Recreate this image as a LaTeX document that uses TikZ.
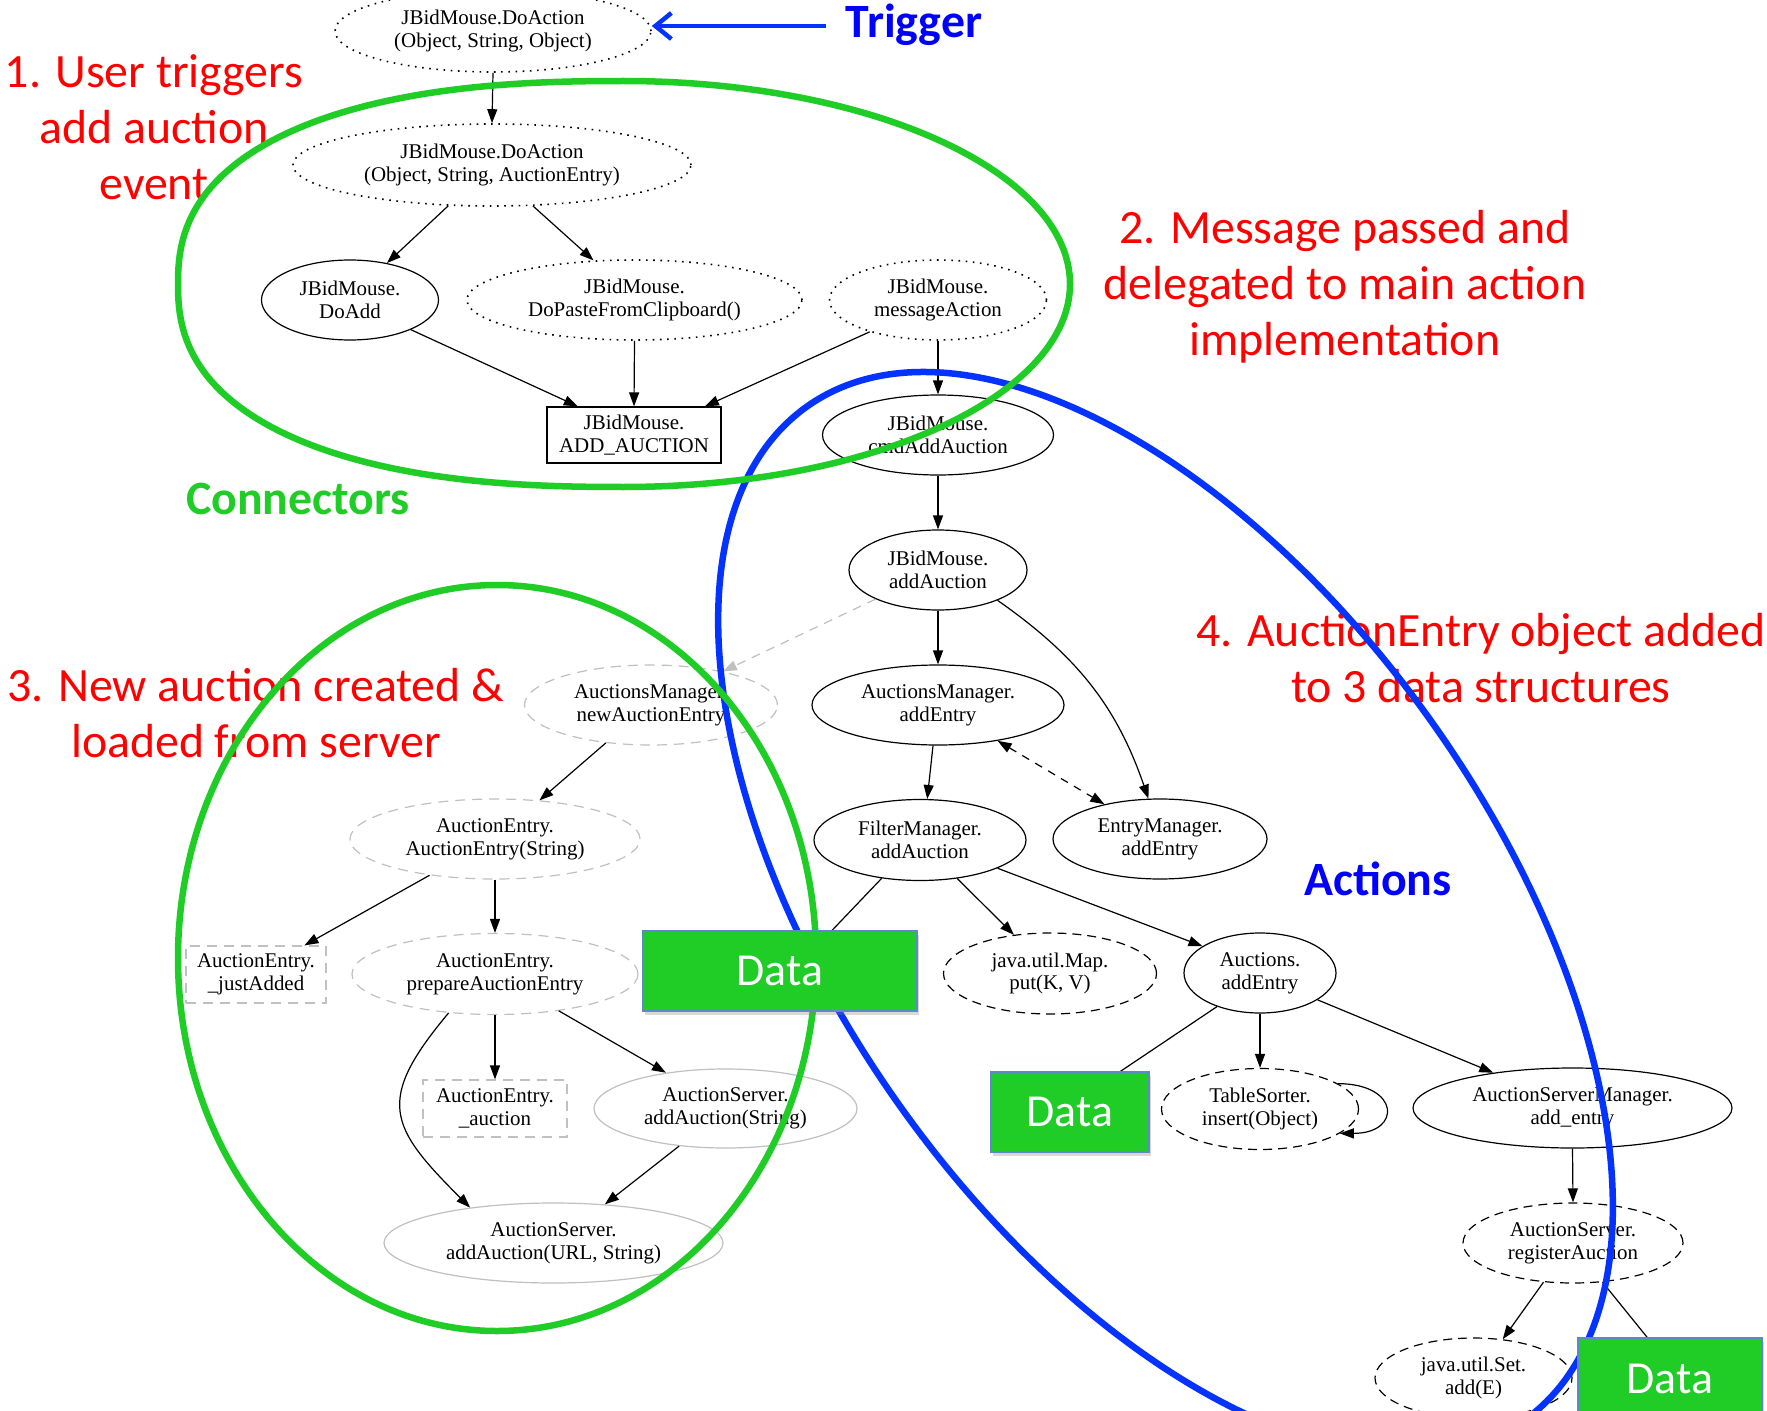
\documentclass[tikz,border=0pt]{standalone}
\usepackage{fontspec}
\newfontfamily\gvfamily{Liberation Serif}
\newfontfamily\calfamily{Carlito}
\usetikzlibrary{shapes.geometric, arrows.meta, shadows}
\definecolor{ggreen}{RGB}{31,205,38}
\definecolor{bblue}{RGB}{4,51,255}
\definecolor{tblue}{RGB}{0,0,255}
\definecolor{gvgray}{RGB}{192,192,192}
\definecolor{dborder}{RGB}{95,135,205}
\tikzset{
  gvnode/.style={font=\gvfamily\fontsize{21}{23}\selectfont, align=center, inner sep=0pt, line width=1.2bp},
  gvell/.style={gvnode, ellipse, draw},
  gvdot/.style={gvell, line width=1.6bp, dash pattern=on 1.6bp off 5.6bp},
  gvdash/.style={gvell, dash pattern=on 9bp off 6bp},
  gvgrayd/.style={gvell, draw=gvgray, dash pattern=on 10bp off 7bp},
  gvgrays/.style={gvell, draw=gvgray},
  gvgraybox/.style={gvnode, rectangle, draw=gvgray, dash pattern=on 10bp off 7bp},
  gvbox/.style={gvnode, rectangle, draw},
  gvedge/.style={-{Triangle[length=14bp,width=10bp]}, line width=1.2bp},
  gvline/.style={line width=1.2bp},
  datanode/.style={rectangle, fill=ggreen, draw=dborder, line width=1.5bp, text=white,
    font=\calfamily\fontsize{46}{50}\selectfont,
    drop shadow={shadow xshift=2bp, shadow yshift=-4bp, opacity=0.3}},
  note/.style={align=center, text=red, inner sep=0pt, font=\calfamily\fontsize{48}{56}\selectfont},
  tagtext/.style={inner sep=0pt, font=\calfamily\bfseries\fontsize{48}{56}\selectfont},
  ringline/.style={line width=6.5bp},
}
\begin{document}
\begin{tikzpicture}[x=1bp, y=-1bp]
\useasboundingbox (0,0) rectangle (1767,1411);
\clip (0,0) rectangle (1767,1411);
\fill[white] (0,0) rectangle (1767,1411);

% graph nodes
\node[gvdot, minimum width=316bp, minimum height=82bp] (A) at (493,31) {JBidMouse.DoAction\\(Object, String, Object)};
\node[gvdot, minimum width=398bp, minimum height=82bp] (B) at (492,165) {JBidMouse.DoAction\\(Object, String, AuctionEntry)};
\node[gvell, minimum width=177bp, minimum height=80bp] (C) at (350,300) {JBidMouse.\\DoAdd};
\node[gvdot, minimum width=335bp, minimum height=80bp] (D) at (634.5,300) {JBidMouse.\\DoPasteFromClipboard()};
\node[gvdot, minimum width=217bp, minimum height=80bp] (E) at (938,300) {JBidMouse.\\messageAction};
\node[gvbox, minimum width=174bp, minimum height=56bp] (F) at (634,435) {JBidMouse.\\ADD\_AUCTION};
\node[gvell, minimum width=231bp, minimum height=80bp] (G) at (938,435) {JBidMouse.\\cmdAddAuction};
\node[gvell, minimum width=178bp, minimum height=80bp] (H) at (938,570) {JBidMouse.\\addAuction};
\node[gvell, minimum width=252bp, minimum height=80bp] (I) at (938,705) {AuctionsManager.\\addEntry};
\node[gvell, minimum width=212bp, minimum height=81bp] (K) at (920,840) {FilterManager.\\addAuction};
\node[gvell, minimum width=214bp, minimum height=80bp] (J) at (1160,839) {EntryManager.\\addEntry};
\node[gvgrayd, minimum width=253bp, minimum height=80bp] (L) at (651,705) {AuctionsManager.\\newAuctionEntry};
\node[gvgrayd, minimum width=290bp, minimum height=80bp] (M) at (495,839) {AuctionEntry.\\AuctionEntry(String)};
\node[gvgraybox, minimum width=140bp, minimum height=57bp] (N) at (256,974.5) {AuctionEntry.\\\_justAdded};
\node[gvgrayd, minimum width=286bp, minimum height=81bp] (O) at (495,974) {AuctionEntry.\\prepareAuctionEntry};
\node[gvgraybox, minimum width=144bp, minimum height=57bp] (P) at (495,1108.5) {AuctionEntry.\\\_auction};
\node[gvgrays, minimum width=263bp, minimum height=79bp] (Q) at (725.5,1108.5) {AuctionServer.\\addAuction(String)};
\node[gvgrays, minimum width=339bp, minimum height=80bp] (R) at (553.5,1243) {AuctionServer.\\addAuction(URL, String)};
\node[gvdash, minimum width=213bp, minimum height=81bp] (S) at (1050,973.5) {java.util.Map.\\put(K, V)};
\node[gvell, minimum width=152bp, minimum height=80bp] (T) at (1260,973) {Auctions.\\addEntry};
\node[gvdash, minimum width=197bp, minimum height=81bp] (U) at (1260,1109) {TableSorter.\\insert(Object)};
\node[gvell, minimum width=319bp, minimum height=80bp] (V) at (1572.5,1108) {AuctionServerManager.\\add\_entry};
\node[gvdash, minimum width=220bp, minimum height=80bp] (W) at (1573,1243) {AuctionServer.\\registerAuction};
\node[gvdash, minimum width=197bp, minimum height=80bp] (X) at (1473.5,1378) {java.util.Set.\\add(E)};

\coordinate (d1in) at (820,943);
\coordinate (d2in) at (1112,1077);
\coordinate (d3in) at (1655,1347);

% edges
\draw[gvedge] (A.south) -- (B.north);
\draw[gvedge] (B.223.6) -- (C.45);
\draw[gvedge] (B.315.7) -- (D.136);
\draw[gvedge] (C.-26.6) -- (F.153.8);
\draw[gvedge] (D.south) -- (F.north);
\draw[gvedge] (E.205.7) -- (F.22.6);
\draw[gvedge] (E.south) -- (G.north);
\draw[gvedge] (G.south) -- (H.north);
\draw[gvedge] (H.south) -- (I.north);
\draw[gvedge] (H.-27) to[out=-35,in=109] (J.106.7);
\draw[gvedge, {Triangle[length=14bp,width=10bp]}-{Triangle[length=14bp,width=10bp]}, dash pattern=on 8bp off 7bp] (I.-31.1) -- (J.148.3);
\draw[gvedge] (I.-97) -- (K.80.3);
\draw[gvedge, draw=gvgray, dash pattern=on 9bp off 7bp] (H.205.4) -- (L.25.7);
\draw[gvedge] (L.220.7) -- (M.41.5);
\draw[gvedge] (M.209.7) -- (N.31.2);
\draw[gvedge] (M.south) -- (O.north);
\draw[gvedge] (O.south) -- (P.north);
\draw[gvedge] (O.-30.8) -- (Q.149.2);
\draw[gvedge] (O.220.3) to[out=-130,in=135,looseness=1.5] (R.157);
\draw[gvedge] (Q.219) -- (R.37.5);
\draw[gvline] (K.225) -- (d1in);
\draw[gvedge] (K.-46.5) -- (S.133.8);
\draw[gvedge] (K.-20.5) -- (T.155.5);
\draw[gvline] (T.218.7) -- (d2in);
\draw[gvedge] (T.south) -- (U.north);
\draw[gvedge] (U.18.3) to[out=0,in=0,looseness=3.2] (U.-17);
\draw[gvedge] (T.-25) -- (V.156.2);
\draw[gvedge] (V.south) -- (W.north);
\draw[gvedge] (W.233.1) -- (X.53.1);
\draw[gvline] (W.-53.1) -- (d3in);

% annotations
\node[note] (n1) at (154,127) {1. User triggers\\add auction\\event};
\node[note] (n2) at (1345,287) {2. Message passed and\\delegated to main action\\implementation};
\node[note] (n3) at (256,713) {3. New auction created \&\\loaded from server};
\node[note] (n4) at (1481,658) {4. AuctionEntry object added\\to 3 data structures};
\node[tagtext, text=tblue] (trig) at (914,25) {Trigger};
\node[tagtext, text=ggreen] (conn) at (298,499) {Connectors};
\node[tagtext, text=tblue] (act) at (1378,879) {Actions};

\coordinate (trigtail) at (826,26);
\draw[bblue, line width=4.5bp, -{Straight Barb[length=16bp, width=26bp]}] (trigtail) -- (trigtail -| A.east);

% grouping rings
\draw[ringline, bblue, rotate around={-54.77:(1165.5,913.5)}] (1165.5,913.5) ellipse [x radius=621, y radius=328];
\draw[ringline, ggreen] (497,958) ellipse [x radius=319, y radius=373];
\draw[ringline, ggreen]
  plot[smooth, domain=-90:90, samples=61] ({624+446*cos(\x)}, {284+203*sin(\x)})
  -- plot[smooth, domain=90.5:269.5, samples=60]
     ({624+446*cos(\x)*pow(abs(cos(\x)),-0.167)}, {284+203*sin(\x)*pow(abs(sin(\x)),-0.167)})
  -- cycle;

% data boxes
\node[datanode, minimum width=274bp, minimum height=80bp] (D1) at (780,971) {Data};
\node[datanode, minimum width=158bp, minimum height=80bp] (D2) at (1070,1112) {Data};
\node[datanode, minimum width=184bp, minimum height=82bp] (D3) at (1670,1379) {Data};
\end{tikzpicture}
\end{document}
